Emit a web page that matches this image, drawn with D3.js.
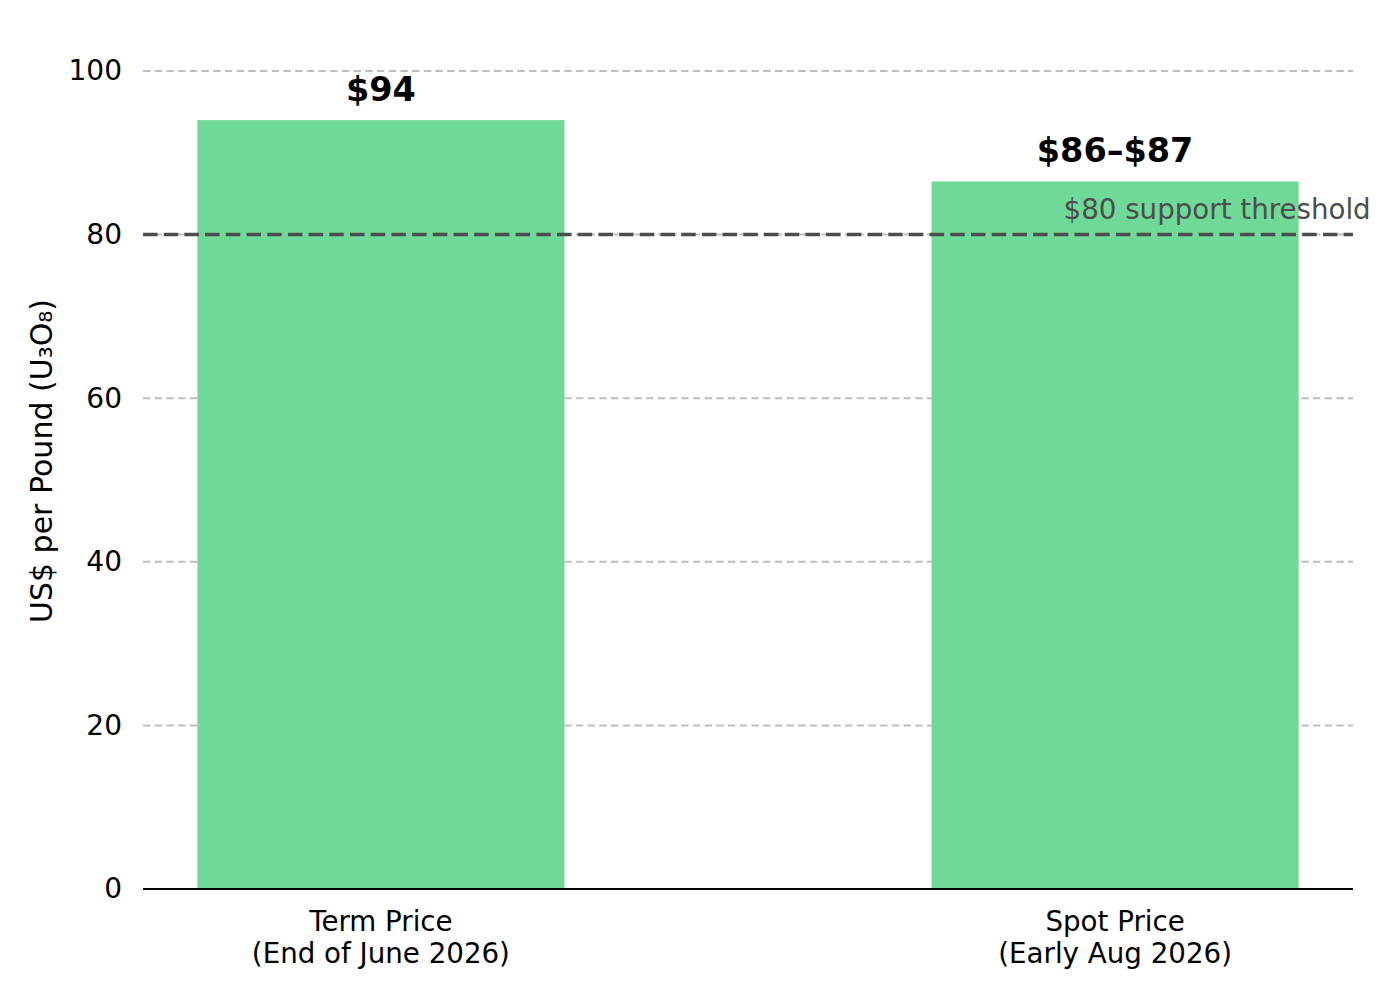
<!DOCTYPE html>
<html>
<head>
<meta charset="utf-8">
<script src="https://cdn.jsdelivr.net/npm/d3@7"></script>
<style>
  body { margin: 0; background: #fff; }
  svg { font-family: "DejaVu Sans", sans-serif; }
</style>
</head>
<body>
<div id="chart"></div>
<script>
// chart data
let categories = ["Term Price\n(End of June 2026)", "Spot Price\n(Early Aug 2026)"];
let prices = [94, 86.5];
let priceLabels = ["$94", "$86\u2013$87"];
let yTicks = [0, 20, 40, 60, 80, 100];
let threshold = 80;
let thresholdLabel = "$80 support threshold";
let yLabel = "US$ per Pound (U\u2083O\u2088)";

let margin = { top: 71, right: 47, bottom: 111, left: 143 };
let width = 1400 - margin.left - margin.right;
let height = 1000 - margin.top - margin.bottom;

let svg = d3.select("#chart").append("svg")
	.attr("width", 1400)
	.attr("height", 1000);

let g = svg.append("g")
	.attr("transform", "translate(" + margin.left + "," + margin.top + ")");

let x = d3.scaleBand()
	.domain(categories)
	.range([0, width])
	.paddingInner(0.5)
	.paddingOuter(0.074);

let y = d3.scaleLinear()
	.domain([0, 100])
	.range([height, 0]);

// grid lines (behind bars)
g.selectAll(".grid")
	.data(yTicks.filter(d => d > 0))
	.enter()
	.append("line")
	.attr("class", "grid")
	.attr("x1", 0)
	.attr("x2", width)
	.attr("y1", d => y(d))
	.attr("y2", d => y(d))
	.attr("stroke", "#bdbdbd")
	.attr("stroke-width", 2)
	.attr("stroke-dasharray", "7.4,4.3");

// y tick labels
let yAxis = g.append("g")
	.call(d3.axisLeft(y).tickValues(yTicks).tickSize(0).tickPadding(21));
yAxis.select(".domain").remove();
yAxis.selectAll("text")
	.attr("font-size", 28)
	.attr("font-family", "DejaVu Sans")
	.attr("fill", "#000");

// bars
g.selectAll(".bar")
	.data(prices)
	.enter()
	.append("rect")
	.attr("class", "bar")
	.attr("x", (d, i) => x(categories[i]))
	.attr("width", x.bandwidth())
	.attr("y", d => y(d))
	.attr("height", d => height - y(d))
	.attr("fill", "#6fd998");

// value labels
g.selectAll(".val")
	.data(prices)
	.enter()
	.append("text")
	.attr("class", "val")
	.attr("x", (d, i) => x(categories[i]) + x.bandwidth() / 2)
	.attr("y", d => y(d) - 19)
	.attr("text-anchor", "middle")
	.attr("font-size", 33.5)
	.attr("font-weight", "bold")
	.attr("fill", "#000")
	.text((d, i) => priceLabels[i]);

// threshold line
g.append("line")
	.attr("x1", 0)
	.attr("x2", width)
	.attr("y1", y(threshold))
	.attr("y2", y(threshold))
	.attr("stroke", "#4d4d4d")
	.attr("stroke-width", 3.5)
	.attr("stroke-dasharray", "14.5,6.2");

g.append("text")
	.attr("x", x(categories[1]) + 132)
	.attr("y", y(threshold) - 16)
	.attr("font-size", 27.7)
	.attr("fill", "#4d4d4d")
	.text(thresholdLabel);

// x baseline
g.append("line")
	.attr("x1", 0)
	.attr("x2", width)
	.attr("y1", height)
	.attr("y2", height)
	.attr("stroke", "#000")
	.attr("stroke-width", 2);

// x labels (two lines each)
let xl = g.selectAll(".xlab")
	.data(categories)
	.enter()
	.append("text")
	.attr("class", "xlab")
	.attr("text-anchor", "middle")
	.attr("font-size", 27.7)
	.attr("fill", "#000")
	.attr("transform", d => "translate(" + (x(d) + x.bandwidth() / 2) + "," + (height + 42) + ")");

xl.selectAll("tspan")
	.data(d => d.split("\n"))
	.enter()
	.append("tspan")
	.attr("x", 0)
	.attr("dy", (d, i) => i === 0 ? 0 : 32)
	.text(d => d);

// y axis label
svg.append("text")
	.attr("transform", "translate(52,461) rotate(-90)")
	.attr("text-anchor", "middle")
	.attr("font-size", 30)
	.attr("fill", "#000")
	.text(yLabel);
</script>
</body>
</html>
